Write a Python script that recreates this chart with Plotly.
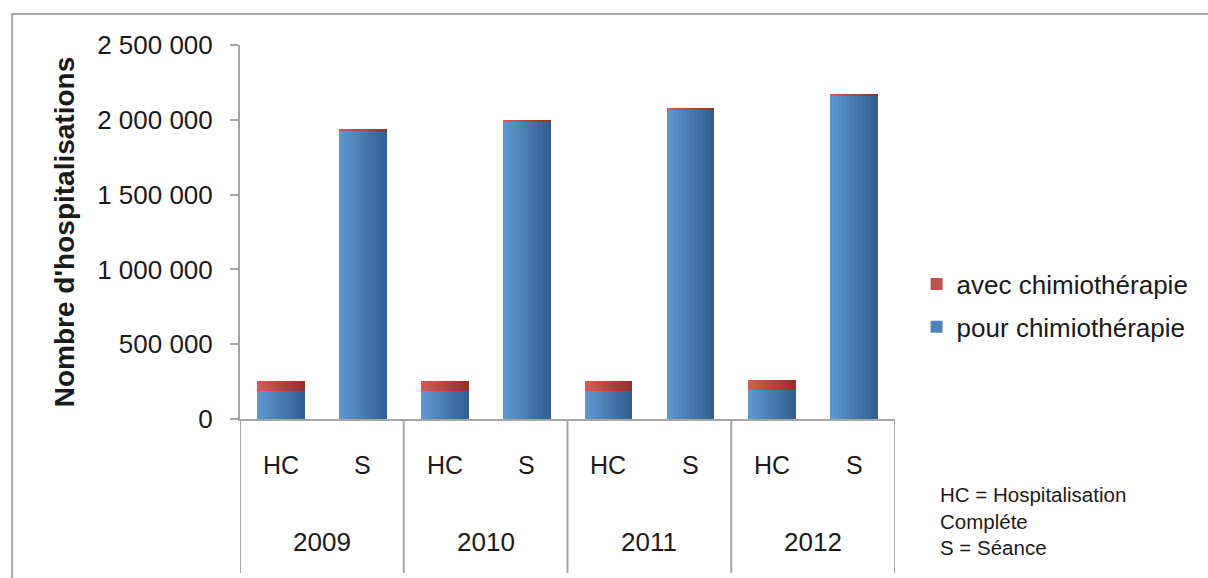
import plotly.graph_objects as go

# Data
years = ["2009", "2010", "2011", "2012"]
types = ["HC", "S"]
pour_chimio = [186000, 1930000, 185000, 1990000, 187000, 2068000, 191000, 2163000]
avec_chimio = [67000, 10000, 66000, 9000, 67000, 8000, 70000, 8000]
y_ticks = [0, 500000, 1000000, 1500000, 2000000, 2500000]

categories = [f"{t} {y}" for y in years for t in types]

FONT = "Liberation Sans, Arial, sans-serif"
TXT = "#1a1a1a"
AXIS = "#a6a6a6"

# Each bar is drawn as narrow vertical strips to give a left-to-right shading
N_STRIPS = 12
BAR_W = 0.58


def lerp(c1, c2, t):
    return "#" + "".join(f"{round(a + (b - a) * t):02x}" for a, b in zip(c1, c2))


blue_l, blue_r = (92, 151, 208), (52, 96, 145)
red_l, red_r = (214, 88, 82), (150, 48, 44)

fig = go.Figure()
base_vals = pour_chimio
for name, vals, base, cl, cr, rank, legend_col in [
    ("pour chimiothérapie", pour_chimio, None, blue_l, blue_r, 2, "#4f81bd"),
    ("avec chimiothérapie", avec_chimio, base_vals, red_l, red_r, 1, "#c0504d"),
]:
    for i in range(N_STRIPS):
        t = i / (N_STRIPS - 1)
        w = BAR_W / N_STRIPS
        fig.add_trace(go.Bar(
            x=categories, y=vals, base=base,
            width=w * 1.05, offset=-BAR_W / 2 + i * w,
            marker=dict(color=lerp(cl, cr, t), line=dict(width=0)),
            name=name, legendgroup=name, legendrank=rank,
            showlegend=False, hoverinfo="skip",
        ))
    # legend entry
    fig.add_trace(go.Bar(
        x=categories, y=[None] * len(categories),
        marker=dict(color=legend_col, line=dict(width=0)),
        name=name, legendgroup=name, legendrank=rank, showlegend=True,
    ))

shapes = []
# outer frame
shapes.append(dict(type="rect", xref="paper", yref="paper",
                   x0=-0.348, x1=2.0, y0=-1.0, y1=1.083,
                   line=dict(color="#a8a8a8", width=2), layer="below"))
# vertical group dividers under the axis
for xpos in [-0.5, 1.5, 3.5, 5.5, 7.5]:
    shapes.append(dict(type="line", xref="x", yref="paper",
                       x0=xpos, x1=xpos, y0=0, y1=-0.412,
                       line=dict(color=AXIS, width=2)))

annotations = []
for i, c in enumerate(categories):
    annotations.append(dict(x=i, y=-0.123, xref="x", yref="paper",
                            yanchor="middle",
                            text=c.split(" ")[0], showarrow=False,
                            font=dict(size=25, color=TXT, family=FONT)))
for j, yr in enumerate(years):
    annotations.append(dict(x=2 * j + 0.5, y=-0.329, xref="x", yref="paper",
                            yanchor="middle",
                            text=yr, showarrow=False,
                            font=dict(size=26, color=TXT, family=FONT)))
annotations.append(dict(x=1.0656, y=-0.165, xref="paper", yref="paper",
                        xanchor="left", yanchor="top", align="left",
                        text="HC = Hospitalisation<br>Compléte<br>S = Séance",
                        showarrow=False,
                        font=dict(size=20.5, color=TXT, family=FONT)))

fig.update_layout(
    width=1208, height=578,
    margin=dict(l=240, r=313, t=45, b=159, autoexpand=False),
    paper_bgcolor="white", plot_bgcolor="white",
    barmode="overlay", bargap=0,
    separators=", ",
    font=dict(family=FONT, color=TXT),
    showlegend=True,
    legend=dict(x=1.033, y=0.3035, xanchor="left", yanchor="middle",
                traceorder="grouped", tracegroupgap=6,
                font=dict(size=26, color=TXT, family=FONT),
                itemwidth=30, bgcolor="rgba(0,0,0,0)"),
    shapes=shapes,
    annotations=annotations,
    xaxis=dict(type="category", categoryorder="array", categoryarray=categories,
               range=[-0.5, 7.5], showticklabels=False, ticks="",
               showline=True, linecolor=AXIS, linewidth=2,
               showgrid=False, zeroline=False, fixedrange=True),
    yaxis=dict(range=[0, 2500000], tickvals=y_ticks, tickformat=",d",
               showline=True, linecolor=AXIS, linewidth=2,
               ticks="outside", ticklen=8, tickcolor=AXIS, tickwidth=2,
               ticklabelstandoff=12,
               tickfont=dict(size=26, color=TXT, family=FONT),
               showgrid=False, zeroline=False,
               title=dict(text="<b>Nombre d'hospitalisations</b>",
                          font=dict(size=28, color=TXT, family=FONT),
                          standoff=14)),
)

fig.write_html("out.html")
